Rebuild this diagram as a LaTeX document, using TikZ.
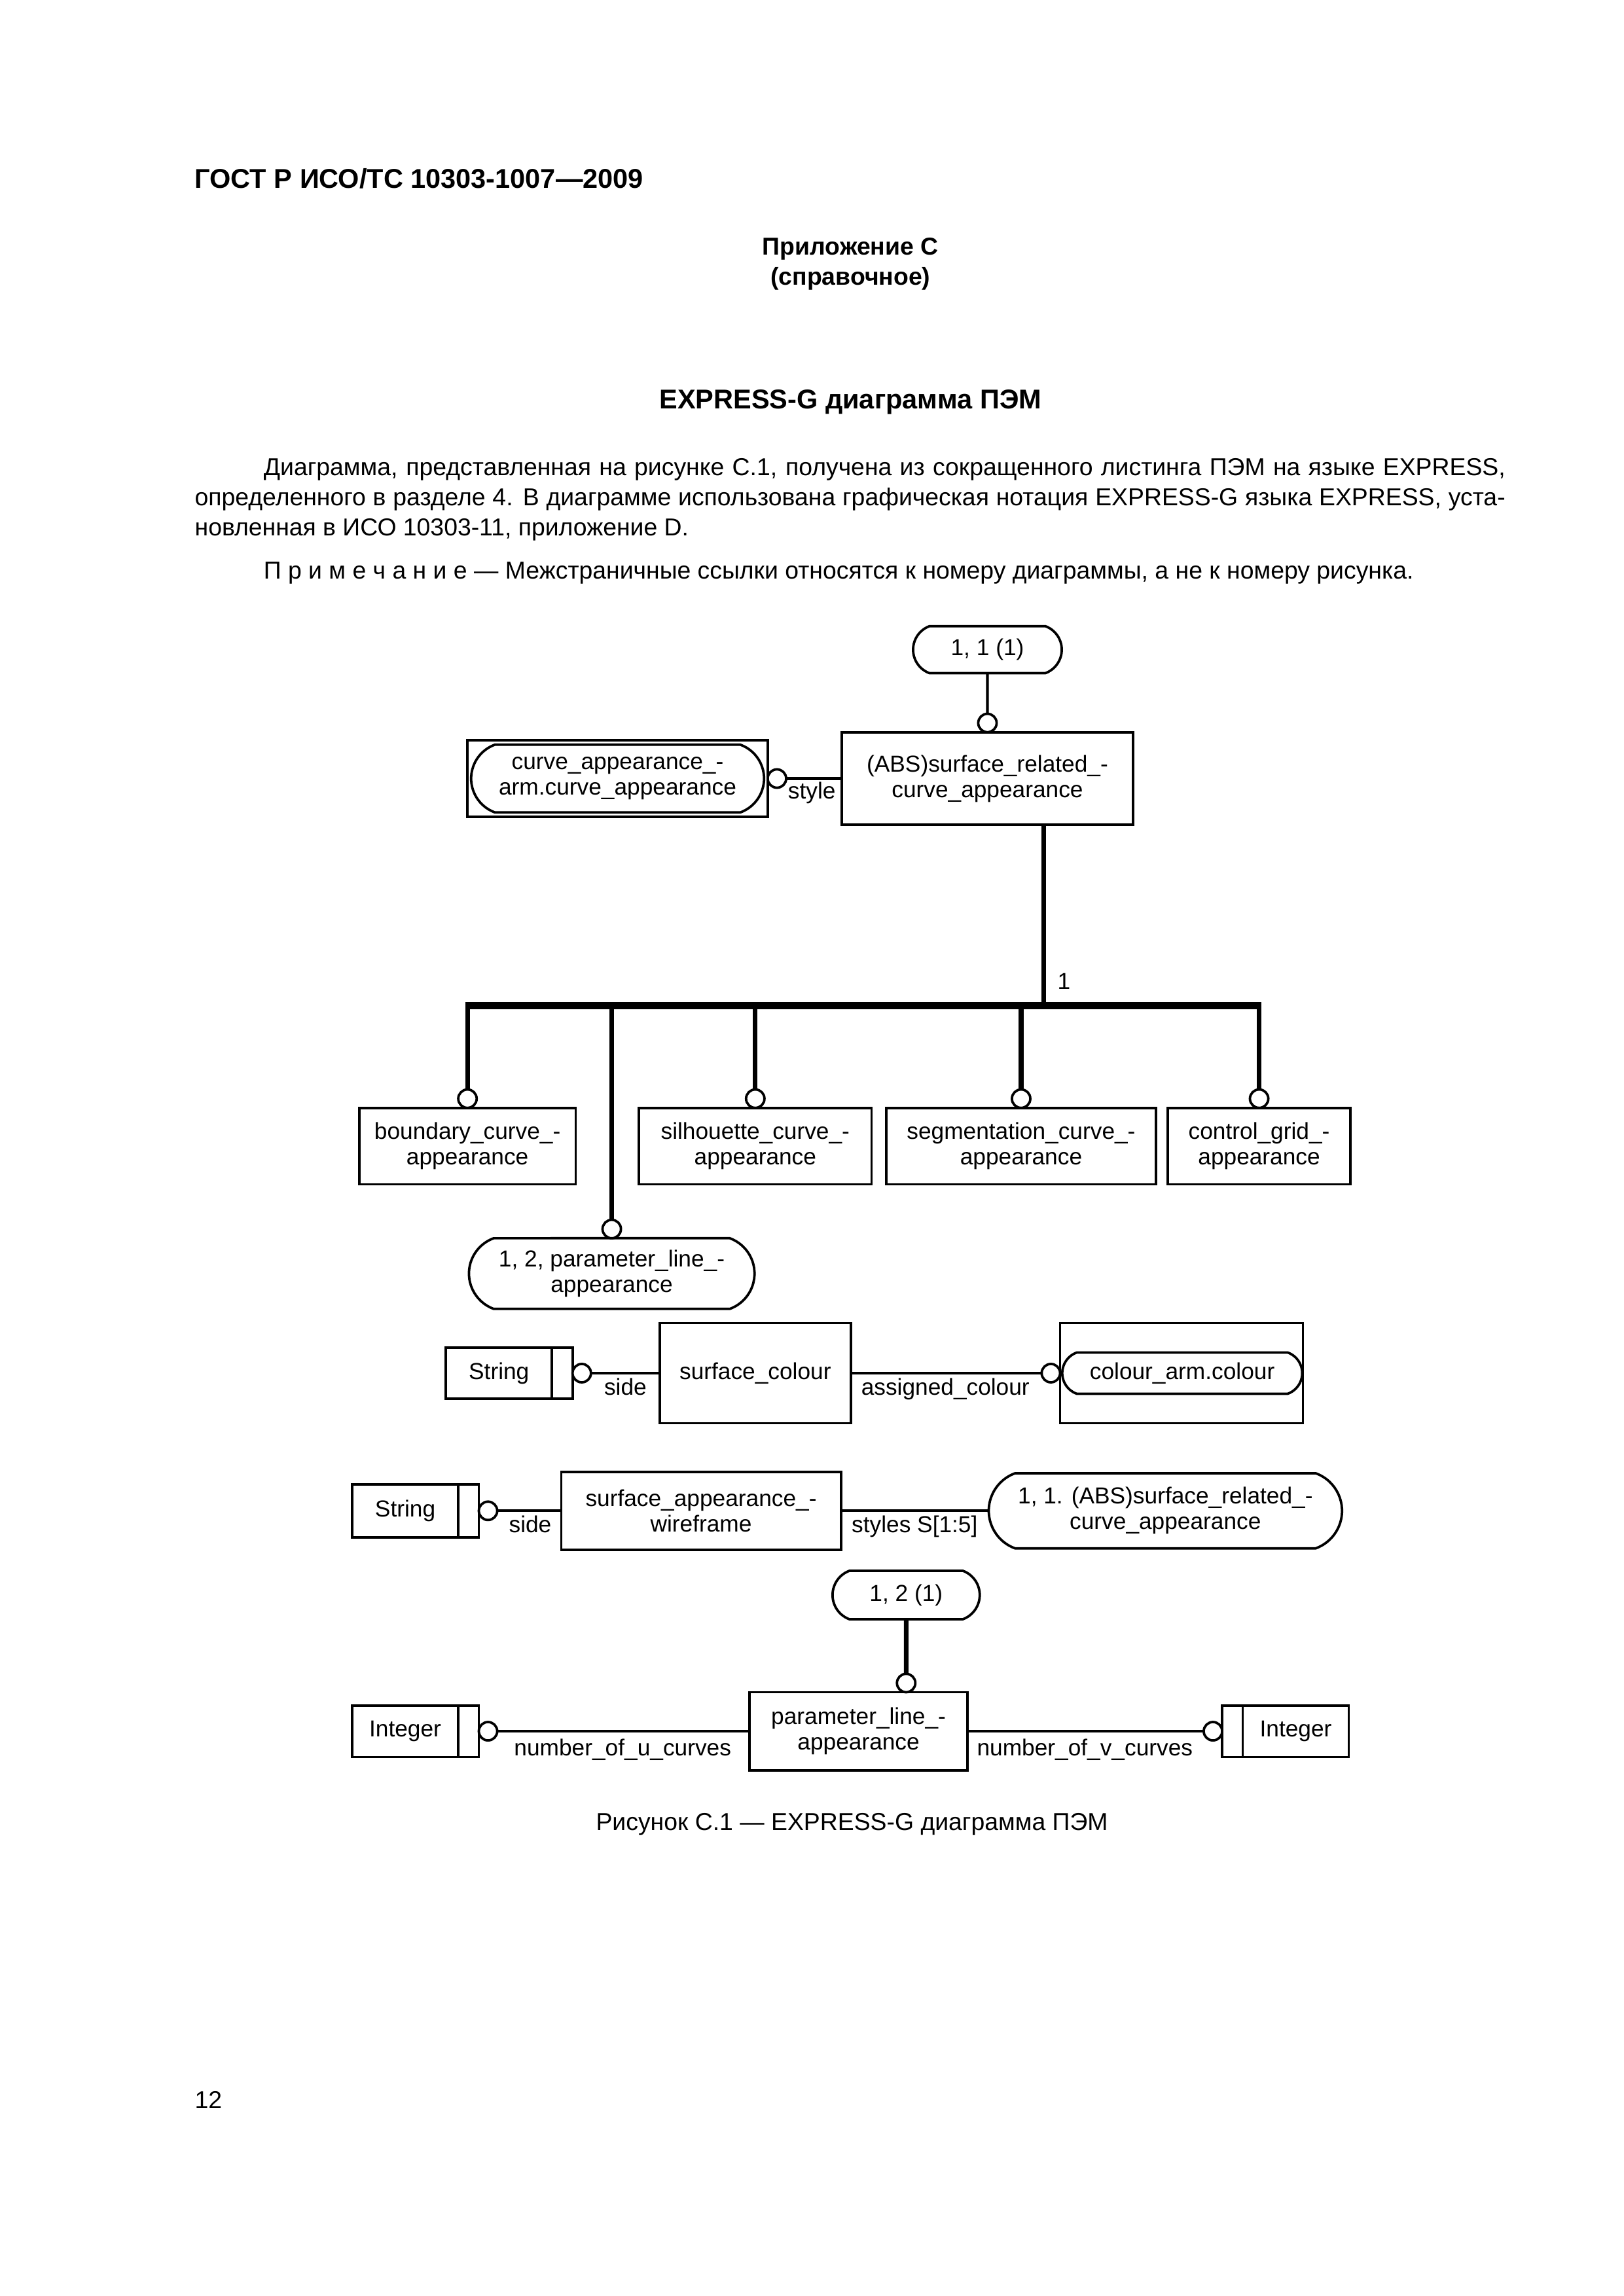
\documentclass[tikz,border=0pt]{standalone}
\usepackage{fontspec}
\setmainfont{Liberation Sans}
\usetikzlibrary{positioning,shapes.misc}

\newcommand{\pxu}{0.19039mm}
\newcommand{\dgfont}{\fontsize{8.5}{9.4}\selectfont}
\newcommand{\txtfont}{\fontsize{9}{11}\selectfont}

\tikzset{
  sz/.style 2 args={minimum width=#1*\pxu, minimum height=#2*\pxu},
  entity/.style={draw, rectangle, line width=0.9pt, align=center, inner sep=0pt, outer sep=0pt, font=\dgfont},
  refoval/.style={entity, rounded rectangle, rounded rectangle arc length=140},
  ring/.style={draw, circle, fill=white, line width=0.9pt, minimum size=12.5*\pxu, inner sep=0pt, outer sep=0pt},
  rel/.style={line width=1pt},
  subrel/.style={line width=1.7pt},
  superbar/.style={line width=2.6pt, shorten <=-0.85pt, shorten >=-0.85pt},
  rolelbl/.style={font=\dgfont, inner sep=0pt, anchor=base west},
  pagetext/.style={font=\txtfont, inner sep=0pt},
}

\begin{document}
\begin{tikzpicture}[x=\pxu, y=-\pxu]
    \fill[white] (0,0) rectangle (1103,1560);
    \useasboundingbox (0,0) rectangle (1103,1560);

  \begin{scope}[shift={(0.66,0.61)}, x=0.18944mm, y=-0.18944mm]
    % Page text
    \node[pagetext, font=\bfseries\fontsize{10}{12}\selectfont, anchor=base west] (gost) at (132,128) {ГОСТ Р ИСО/ТС 10303-1007—2009};
    \node[pagetext, font=\bfseries\txtfont, anchor=base] (annex) at (580,173.5) {Приложение С};
    \node[pagetext, font=\bfseries\txtfont, anchor=base] (annexkind) at (580,194) {(справочное)};
    \node[pagetext, font=\bfseries\fontsize{10}{12}\selectfont, anchor=base] (title) at (580,278.5) {EXPRESS-G диаграмма ПЭМ};
    \node[pagetext, anchor=base west] (para1) at (179,324) {\makebox[160.6mm][s]{Диаграмма, представленная на рисунке С.1, получена из сокращенного листинга ПЭМ на языке EXPRESS,}};
    \node[pagetext, anchor=base west] (para2) at (132,344.5) {\makebox[169.5mm][s]{определенного в разделе 4. В диаграмме использована графическая нотация EXPRESS-G языка EXPRESS, уста-}};
    \node[pagetext, anchor=base west] (para3) at (132,365) {новленная в ИСО 10303-11, приложение D.};
    \node[pagetext, anchor=base west] (note) at (179,394.5) {П р и м е ч а н и е — Межстраничные ссылки относятся к номеру диаграммы, а не к номеру рисунка.};

    % Supertype and its references
    \node[entity, sz={198}{63}] (sra) at (673.5,531) {(ABS)surface\_related\_-\\curve\_appearance};
    \node[refoval, sz={101}{32}] (ref11) at (673.5,443) {1, 1 (1)};
    \node[ring, above=0pt of sra] (sraring) {};
    \draw[rel] (ref11) -- (sraring);

    \node[entity, sz={204}{52}] (caabox) at (421,531) {};
    \node[refoval, sz={199}{46}] (caa) at (421,531) {curve\_appearance\_-\\arm.curve\_appearance};
    \node[ring, right=0pt of caabox] (caaring) {};
    \draw[rel] (caaring) -- (sra);
    \node[rolelbl] (stylelbl) at (537,545) {style};

    % Subtype tree
    \coordinate (barmid) at (712,686);
    \coordinate (barleft) at (318.5,686);
    \coordinate (barright) at (859,686);
    \draw[subrel] (sra.south -| barmid) -- (barmid);
    \draw[superbar] (barleft) -- (barright);
    \node[rolelbl] (onelbl) at (721,675) {1};

    \node[entity, sz={147}{52}] (bnd) at (318.5,782) {boundary\_curve\_-\\appearance};
    \node[entity, sz={158}{52}] (sil) at (515,782) {silhouette\_curve\_-\\appearance};
    \node[entity, sz={183}{52}] (seg) at (696.5,782) {segmentation\_curve\_-\\appearance};
    \node[entity, sz={124}{52}] (ctl) at (859,782) {control\_grid\_-\\appearance};
    \node[refoval, sz={194}{48}] (plaref) at (417,869) {1, 2, parameter\_line\_-\\appearance};

    \foreach \n in {bnd,sil,seg,ctl,plaref} {
        \node[ring, above=0pt of \n] (r\n) {};
        \draw[subrel] (r\n) -- (r\n |- barmid);
    }

    % surface_colour
    \node[entity, sz={72}{35}] (str1) at (340,937) {String};
    \node[entity, sz={14}{35}, right=0pt of str1] (str1end) {};
    \node[ring, right=0pt of str1end] (str1ring) {};
    \node[entity, sz={130}{68}] (scol) at (515,937) {surface\_colour};
    \draw[rel] (str1ring) -- (scol);
    \node[rolelbl] (sidelbl1) at (411.5,952) {side};
    \node[entity, sz={165}{68}] (colbox) at (806,937) {};
    \node[refoval, sz={163}{28}] (colref) at (806.5,937) {colour\_arm.colour};
    \node[ring, left=0pt of colbox] (colring) {};
    \draw[rel] (scol) -- (colring);
    \node[rolelbl] (assignlbl) at (587,952) {assigned\_colour};

    % surface_appearance_wireframe
    \node[entity, sz={72}{36}] (str2) at (276,1031) {String};
    \node[entity, sz={14}{36}, right=0pt of str2] (str2end) {};
    \node[ring, right=0pt of str2end] (str2ring) {};
    \node[entity, sz={190}{53}] (swf) at (478,1031) {surface\_appearance\_-\\wireframe};
    \draw[rel] (str2ring) -- (swf);
    \node[rolelbl] (sidelbl2) at (346.5,1046) {side};
    \node[refoval, sz={240}{51}] (sraref) at (795,1031) {1, 1. (ABS)surface\_related\_-\\curve\_appearance};
    \draw[rel] (swf) -- (sraref);
    \node[rolelbl] (styleslbl) at (580.5,1046) {styles S[1:5]};

    % parameter_line_appearance
    \node[refoval, sz={100}{33}] (ref12) at (618,1088.5) {1, 2 (1)};
    \node[entity, sz={148}{53}] (pla) at (585.5,1181.5) {parameter\_line\_-\\appearance};
    \node[ring, anchor=south] (plaring) at (ref12 |- pla.north) {};
    \draw[subrel] (ref12) -- (plaring);
    \node[entity, sz={72}{35}] (int1) at (276,1181.5) {Integer};
    \node[entity, sz={14}{35}, right=0pt of int1] (int1end) {};
    \node[ring, right=0pt of int1end] (int1ring) {};
    \draw[rel] (int1ring) -- (pla);
    \node[rolelbl] (nulbl) at (350,1198) {number\_of\_u\_curves};
    \node[entity, sz={72}{35}] (int2) at (884,1181.5) {Integer};
    \node[entity, sz={14}{35}, left=0pt of int2] (int2end) {};
    \node[ring, left=0pt of int2end] (int2ring) {};
    \draw[rel] (pla) -- (int2ring);
    \node[rolelbl] (nvlbl) at (666,1198) {number\_of\_v\_curves};

    % Caption and page number
    \node[pagetext, anchor=base] (caption) at (581,1249) {Рисунок С.1 — EXPRESS-G диаграмма ПЭМ};
    \node[pagetext, anchor=base west] (pageno) at (132,1439) {12};
  \end{scope}
\end{tikzpicture}
\end{document}
